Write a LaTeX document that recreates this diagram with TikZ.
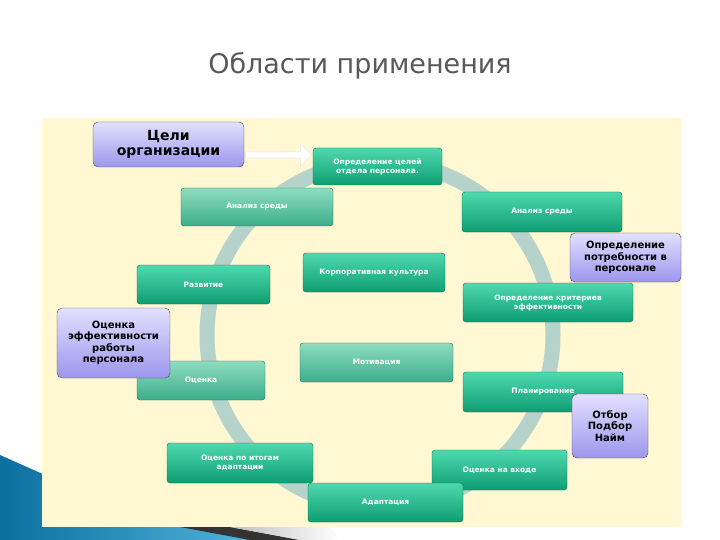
\documentclass[tikz,border=0pt]{standalone}
\usepackage{fontspec}
\setmainfont{DejaVu Sans}
\usetikzlibrary{shapes.arrows}
\definecolor{cream}{HTML}{FFF8D2}
\definecolor{gtop}{HTML}{4FD8AE}
\definecolor{gbot}{HTML}{0E9E72}
\definecolor{ltop}{HTML}{8FDCC0}
\definecolor{lbot}{HTML}{3CAE8A}
\definecolor{ptop}{HTML}{E2E0FF}
\definecolor{pbot}{HTML}{9C96EC}
\definecolor{ringc}{HTML}{B5D3CB}
\definecolor{blued}{HTML}{0B6FA0}
\definecolor{bluel}{HTML}{5FC0E6}
\tikzset{
 gbox/.style={draw=gbot!70!black, rounded corners=3pt, top color=gtop, bottom color=gbot, text=white, font=\bfseries\fontsize{7.5}{9}\selectfont, align=center, inner sep=2pt},
 lbox/.style={gbox, top color=ltop, bottom color=lbot},
 pbox/.style={draw=black!70, rounded corners=5pt, top color=ptop, bottom color=pbot, text=black, font=\bfseries\fontsize{10}{11.5}\selectfont, align=center, inner sep=2pt},
 bigp/.style={pbox, font=\bfseries\fontsize{14}{15.5}\selectfont}
}
\newcommand{\bx}[6]{\node[#1, minimum width=#4pt-#2pt, minimum height=#5pt-#3pt] (#6) at ({(#2+#4)/2},{-(#3+#5)/2})}
\begin{document}
\begin{tikzpicture}[x=1pt,y=1pt]
\useasboundingbox (0,0) rectangle (720,-540);
\fill[white] (0,0) rectangle (720,-540);
\node[text=black!65, font=\fontsize{27}{30}\selectfont] (title) at (360,-66) {Области применения};
% bottom-left decoration
\shade[left color=blued, right color=bluel] (0,-455) -- (45,-475) -- (45,-527) -- (230,-527) -- (300,-540) -- (0,-540) -- cycle;
\fill[black!80] (180,-527) -- (230,-527) -- (300,-540) -- (250,-540) -- cycle;
\shade[left color=black!25, right color=white] (230,-527) -- (330,-527) -- (340,-540) -- (300,-540) -- cycle;
\fill[cream] (42,-118) rectangle (682,-527);
\draw[ringc, line width=15pt] (380,-335) circle (173);
\bx{gbox}{313}{148}{442}{185}{a} {Определение целей\\отдела персонала.};
\bx{lbox}{181}{188}{333}{226}{b} {Анализ среды};
\bx{gbox}{462}{192}{622}{232}{c} {Анализ среды};
\bx{gbox}{303}{253}{445}{292}{d} {Корпоративная культура};
\bx{gbox}{137}{265}{270}{304}{e} {Развитие};
\bx{gbox}{463}{283}{633}{322}{f} {Определение критериев\\эффективности};
\bx{lbox}{300}{343}{453}{382}{g} {Мотивация};
\bx{lbox}{137}{361}{265}{400}{h} {Оценка};
\bx{gbox}{463}{372}{623}{412}{i} {Планирование};
\bx{gbox}{167}{443}{313}{483}{j} {Оценка по итогам\\адаптации};
\bx{gbox}{432}{450}{567}{490}{k} {Оценка на входе};
\bx{gbox}{308}{483}{463}{522}{l} {Адаптация};
\bx{bigp}{93}{122}{244}{167}{p1} {Цели\\организации};
\bx{pbox}{570}{233}{681}{282}{p2} {Определение\\потребности в\\персонале};
\bx{pbox}{57}{308}{170}{378}{p3} {Оценка\\эффективности\\работы\\персонала};
\bx{pbox}{572}{394}{648}{458}{p4} {Отбор\\Подбор\\Найм};
\node[single arrow, fill=white, draw=black!10, minimum height=66pt, minimum width=22pt, single arrow head extend=3pt, inner sep=1pt] (arr) at (277,-155) {};
\end{tikzpicture}
\end{document}
